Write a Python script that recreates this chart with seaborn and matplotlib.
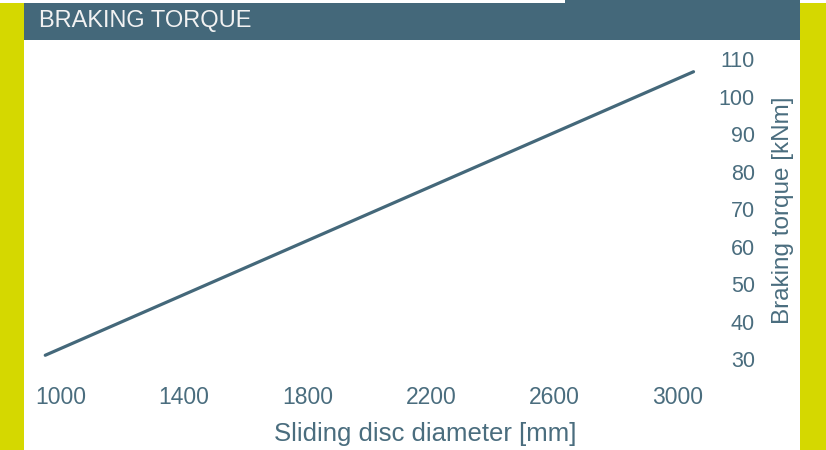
import matplotlib
matplotlib.use("Agg")
import matplotlib.pyplot as plt
from matplotlib.patches import Rectangle
import pandas as pd
import seaborn as sns

# Data
diameter_mm = [950, 3050]
torque_knm = [31.0, 106.7]
x_ticks = [1000, 1400, 1800, 2200, 2600, 3000]
y_ticks = [30, 40, 50, 60, 70, 80, 90, 100, 110]

title = "BRAKING TORQUE"
x_label = "Sliding disc diameter [mm]"
y_label = "Braking torque [kNm]"

df = pd.DataFrame({"diameter": diameter_mm, "torque": torque_knm})

# Colours
navy = "#44687a"
text_col = "#4a6d7e"
yellow = "#d5d800"

sns.set_style("white")
plt.rcParams["font.family"] = ["Liberation Sans", "DejaVu Sans"]

W, H = 826, 450
fig = plt.figure(figsize=(W / 100, H / 100), dpi=100)

def fx(px):
    return px / W

def fy(px):
    return 1 - px / H

# frame decorations: yellow side bars and header band
fig.add_artist(Rectangle((0, 0), fx(24), 1 - 3 / H, transform=fig.transFigure,
                         color=yellow, lw=0))
fig.add_artist(Rectangle((fx(800), 0), fx(26), 1 - 3 / H, transform=fig.transFigure,
                         color=yellow, lw=0))
fig.add_artist(Rectangle((fx(24), fy(40)), fx(776), 37 / H, transform=fig.transFigure,
                         color=navy, lw=0))
fig.add_artist(Rectangle((fx(565), fy(3)), fx(235), 3 / H, transform=fig.transFigure,
                         color=navy, lw=0))
fig.text(fx(39), fy(21), title, color="#f2f2f2", fontsize=17,
         ha="left", va="center")

ax = fig.add_axes([fx(40), 1 - 365 / H, fx(660), 315 / H])
sns.lineplot(data=df, x="diameter", y="torque", ax=ax, color=navy, linewidth=2.3)

ax.set_xlim(933, 3071)
ax.set_ylim(28.4, 112.5)
ax.set_xticks(x_ticks)
ax.set_yticks(y_ticks)
ax.yaxis.tick_right()
ax.tick_params(length=0)
ax.tick_params(axis="x", pad=15, colors=text_col, labelsize=16.5)
ax.tick_params(axis="y", pad=39.5, colors=text_col, labelsize=15.5)
for lab in ax.get_yticklabels():
    lab.set_horizontalalignment("right")

ax.set_xlabel(x_label, fontsize=18.5, color=text_col)
ax.xaxis.set_label_coords((425 - 40) / 660, (365 - 434) / 315)
ax.xaxis.label.set_va("center")

ax.yaxis.set_label_position("right")
ax.set_ylabel(y_label, fontsize=17.5, color=text_col, rotation=90)
ax.yaxis.set_label_coords((783 - 40) / 660, (365 - 210) / 315)
ax.yaxis.label.set_va("center")
ax.yaxis.label.set_ha("center")

sns.despine(ax=ax, left=True, bottom=True, right=True, top=True)
ax.patch.set_alpha(0)

fig.savefig("out.png", dpi=100, facecolor="white")
